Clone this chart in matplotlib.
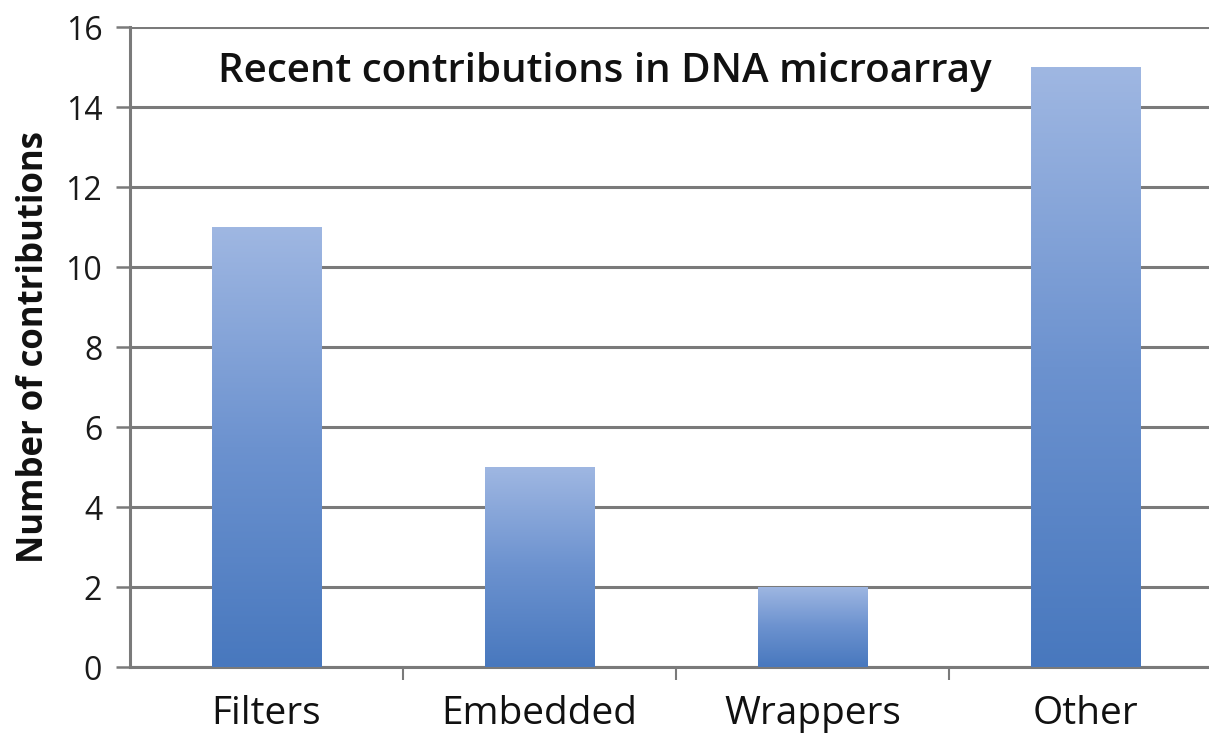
import numpy as np
import matplotlib
matplotlib.use("Agg")
import matplotlib.pyplot as plt
from matplotlib.colors import LinearSegmentedColormap

categories = ["Filters", "Embedded", "Wrappers", "Other"]
contributions = [11, 5, 2, 15]
y_ticks = [0, 2, 4, 6, 8, 10, 12, 14, 16]
title_text = "Recent contributions in DNA microarray"
y_label = "Number of contributions"

plt.rcParams["font.family"] = ["Open Sans", "DejaVu Sans"]

fig = plt.figure(figsize=(12.09, 7.33), dpi=100)
W, H = 1209, 733
ax = fig.add_axes([130 / W, 1 - 667 / H, 1092 / W, 640 / H])

x = np.arange(len(categories))
bars = ax.bar(x, contributions, width=0.4, color="none", zorder=3)

# vertical gradient fill, light at the top to darker blue at the bottom
grad_cmap = LinearSegmentedColormap.from_list("bar_grad", ["#4878be", "#6c92cf", "#9fb7e2"])
grad = np.linspace(0, 1, 256).reshape(-1, 1)
for b in bars:
    x0, y0 = b.get_x(), b.get_y()
    w, h = b.get_width(), b.get_height()
    im = ax.imshow(grad, cmap=grad_cmap, origin="lower", aspect="auto",
                   extent=[x0, x0 + w, y0, y0 + h], zorder=3, interpolation="bilinear")
    im.set_clip_path(b)

ax.set_xlim(-0.5, len(categories) - 0.5)
ax.set_ylim(0, 16)
ax.set_yticks(y_ticks)
ax.set_yticklabels([str(v) for v in y_ticks], fontsize=23, color="#1a1a1a", fontweight="medium")

ax.set_xticks(x)
ax.set_xticklabels(categories, fontsize=28, color="#111111")
ax.tick_params(axis="x", length=0, pad=20)
ax.set_xticks(np.arange(0.5, len(categories) - 0.5, 1), minor=True)
ax.tick_params(axis="x", which="minor", length=9, width=1.5, color="#7a7a7a", direction="out")
ax.tick_params(axis="y", length=10, width=1.8, color="#7a7a7a", pad=10)

ax.grid(axis="y", color="#7a7a7a", linewidth=2.2, zorder=0)
ax.set_axisbelow(True)
for s in ["top", "right"]:
    ax.spines[s].set_visible(False)
ax.spines["left"].set_color("#7a7a7a")
ax.spines["left"].set_linewidth(2.2)
ax.spines["bottom"].set_color("#7a7a7a")
ax.spines["bottom"].set_linewidth(2.2)

ax.set_ylabel(y_label, fontsize=25, fontweight="bold", color="#111111", labelpad=10)

ax.text(88 / 1092, 1 - 45 / 640, title_text, transform=ax.transAxes,
        fontsize=29, fontweight="semibold", color="#111111", va="center", ha="left", zorder=4)

fig.savefig("out.png", dpi=100, facecolor="white")
